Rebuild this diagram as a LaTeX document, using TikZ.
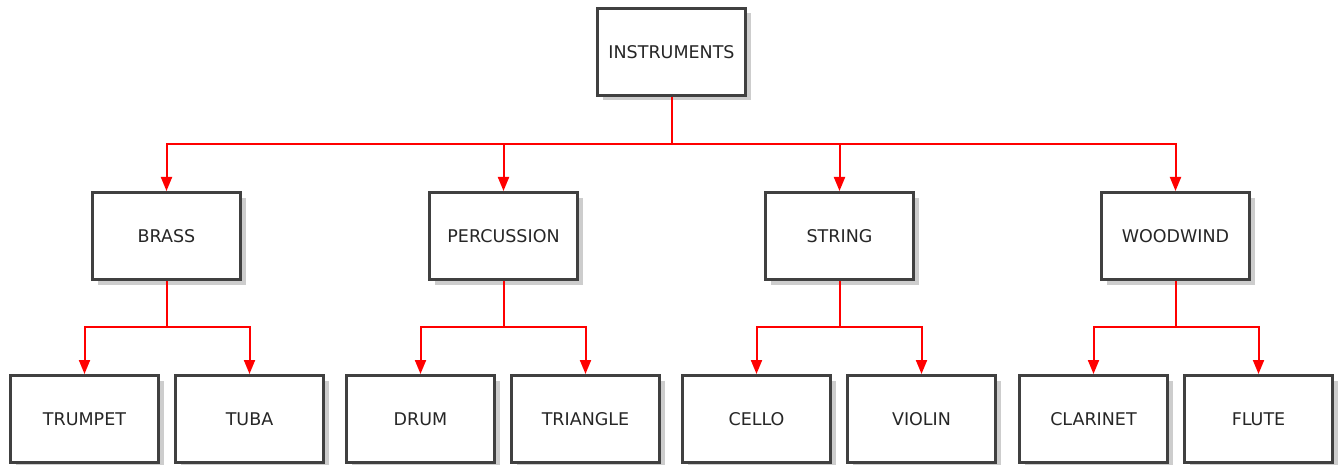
\documentclass[tikz,border=0pt]{standalone}
\usepackage{fontspec}
\setmainfont{DejaVu Sans}
\usetikzlibrary{arrows.meta,shadows}
\definecolor{boxline}{HTML}{404040}
\definecolor{shade}{HTML}{CDCDCD}
\begin{document}
\begin{tikzpicture}[x=1pt,y=-1pt,
  box/.style={draw=boxline, line width=3pt, fill=white, minimum width=148pt, minimum height=87pt,
    inner sep=0pt, font=\fontsize{17.5}{20}\selectfont, text=black!85,
    drop shadow={shadow xshift=5pt, shadow yshift=-5pt, fill=shade, opacity=1}},
  conn/.style={draw=red, line width=2pt, -{Triangle[width=11pt,length=14pt]}}]
\useasboundingbox (0,0) rectangle (1340,465);
\node[box] (root) at (671.5,52) {INSTRUMENTS};
\node[box] (brass) at (166.5,236) {BRASS};
\node[box] (perc) at (503.5,236) {PERCUSSION};
\node[box] (string) at (839.5,236) {STRING};
\node[box] (wood) at (1175.5,236) {WOODWIND};
\node[box] (trumpet) at (84.5,419) {TRUMPET};
\node[box] (tuba) at (249.5,419) {TUBA};
\node[box] (drum) at (420.5,419) {DRUM};
\node[box] (triangle) at (585.5,419) {TRIANGLE};
\node[box] (cello) at (756.5,419) {CELLO};
\node[box] (violin) at (921.5,419) {VIOLIN};
\node[box] (clarinet) at (1093.5,419) {CLARINET};
\node[box] (flute) at (1258.5,419) {FLUTE};
\foreach \c in {brass,perc,string,wood}
  \draw[conn] (root.south) -- (root.south |- 0,144) -| (\c.north);
\foreach \p/\a/\b in {brass/trumpet/tuba, perc/drum/triangle, string/cello/violin, wood/clarinet/flute}{
  \draw[conn] (\p.south) -- (\p.south |- 0,327) -| (\a.north);
  \draw[conn] (\p.south) -- (\p.south |- 0,327) -| (\b.north);
}
\end{tikzpicture}
\end{document}
